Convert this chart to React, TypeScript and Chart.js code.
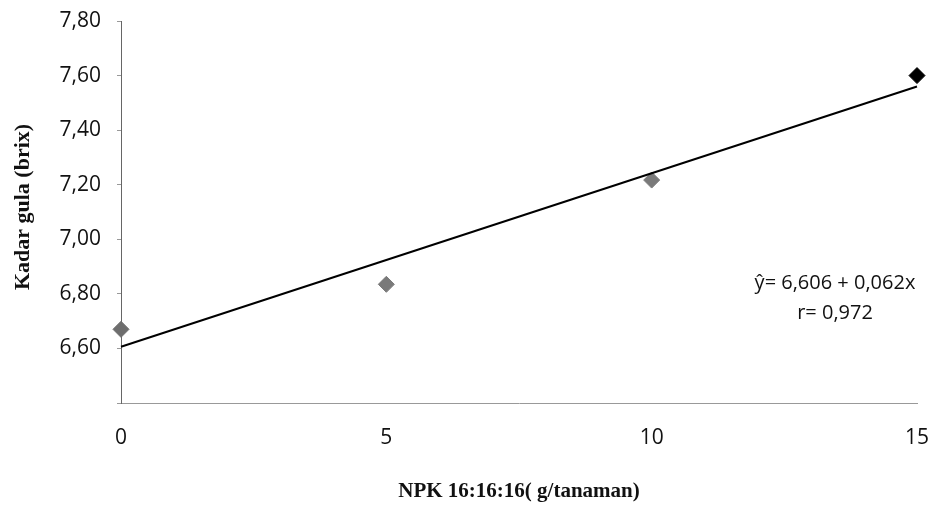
import React, { useEffect, useRef } from "react";
import { Chart, registerables } from "chart.js";

Chart.register(...registerables);

const doses = [0, 5, 10, 15];
const sugar = [6.67, 6.835, 7.217, 7.6];
const trendX = [0, 15];
const trendY = [6.606, 7.56];
const pointColors = ["#6e6e6e", "#7a7a7a", "#7a7a7a", "#000000"];
const yTicksMin = 6.4;
const yTicksMax = 7.8;
const equationLines = ["ŷ= 6,606 + 0,062x", "r= 0,972"];
const yTitle = "Kadar gula (brix)";
const xTitle = "NPK 16:16:16( g/tanaman)";

const textPlugin = {
  id: "texts",
  afterDatasetsDraw(chart: any) {
    const ctx = chart.ctx;
    ctx.save();
    ctx.fillStyle = "#111";
    ctx.font = "20px 'Open Sans', sans-serif";
    ctx.textAlign = "center";
    ctx.textBaseline = "middle";
    ctx.fillText(equationLines[0], 835, 283);
    ctx.fillText(equationLines[1], 835, 313);
    ctx.font = "bold 22px 'Liberation Serif', serif";
    ctx.translate(23, 207);
    ctx.rotate(-Math.PI / 2);
    ctx.fillText(yTitle, 0, 0);
    ctx.restore();
  },
};

export default function App() {
  const ref = useRef<HTMLCanvasElement | null>(null);
  useEffect(() => {
    if (!ref.current) return;
    const chart = new Chart(ref.current, {
      type: "scatter",
      data: {
        datasets: [
          {
            type: "line",
            data: trendX.map((x, i) => ({ x, y: trendY[i] })),
            borderColor: "#000",
            borderWidth: 2,
            pointRadius: 0,
            fill: false,
            clip: false,
          } as any,
          {
            data: doses.map((x, i) => ({ x, y: sugar[i] })),
            pointStyle: "rectRot",
            pointRadius: 8,
            pointBackgroundColor: pointColors,
            pointBorderColor: pointColors,
            pointBorderWidth: 1,
            clip: false,
          } as any,
        ],
      },
      options: {
        animation: false,
        responsive: false,
        layout: { padding: { top: 21, right: 22, left: 0, bottom: 0 } },
        plugins: { legend: { display: false }, tooltip: { enabled: false } },
        scales: {
          x: {
            type: "linear",
            min: 0,
            max: 15,
            afterFit: (s: any) => {
              s.height = 110;
              s.paddingLeft = 0;
              s.paddingRight = 0;
            },
            ticks: {
              stepSize: 5,
              padding: 22,
              color: "#111",
              font: { family: "'Open Sans', sans-serif", size: 21 },
            },
            grid: { display: false, drawTicks: false },
            border: { display: true, color: "#999", width: 1 },
            title: {
              display: true,
              text: xTitle,
              color: "#111",
              font: { family: "'Liberation Serif', serif", size: 21, weight: "bold" },
              padding: { top: 0, bottom: 9 },
            },
          },
          y: {
            type: "linear",
            min: yTicksMin,
            max: yTicksMax,
            afterFit: (s: any) => {
              s.width = 121;
              s.paddingTop = 0;
              s.paddingBottom = 0;
            },
            ticks: {
              stepSize: 0.2,
              padding: 16,
              color: "#111",
              font: { family: "'Open Sans', sans-serif", size: 21 },
              callback: (v: any) => (Number(v) < 6.5 ? "" : Number(v).toFixed(2).replace(".", ",")),
            },
            grid: { display: true, drawOnChartArea: false, tickLength: 4, color: "#999" },
            border: { display: true, color: "#666", width: 1, dash: [2, 2] },
            title: { display: false },
          },
        },
      },
      plugins: [textPlugin],
    });
    return () => chart.destroy();
  }, []);
  return (
    <div style={{ position: "fixed", left: 0, top: 0, width: 939, height: 513, background: "#fff" }}>
      <canvas ref={ref} width={939} height={513} style={{ display: "block" }} />
    </div>
  );
}
